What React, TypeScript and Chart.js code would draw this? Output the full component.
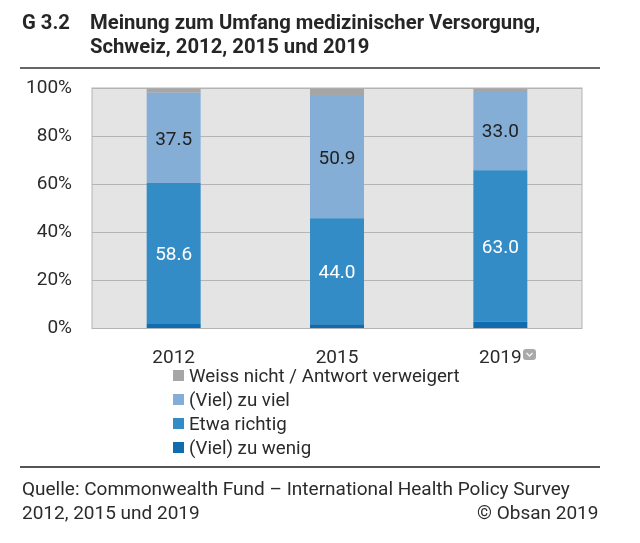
import React, { useEffect, useRef } from "react";
import { Chart, registerables } from "chart.js";

Chart.register(...registerables);

const years = ["2012", "2015", "2019"];
const zuWenig = [1.9, 1.8, 2.8];
const etwaRichtig = [58.6, 44.0, 63.0];
const zuViel = [37.5, 50.9, 33.0];
const weissNicht = [2.0, 3.3, 1.2];
const yTicks = [0, 20, 40, 60, 80, 100];
const FONT = "Roboto, sans-serif";
const TEXT = "#2b2b2b";

const series = [
  { label: "(Viel) zu wenig", data: zuWenig, color: "#0f6cb0", valueColor: "" },
  { label: "Etwa richtig", data: etwaRichtig, color: "#338cc6", valueColor: "#ffffff" },
  { label: "(Viel) zu viel", data: zuViel, color: "#85aed7", valueColor: "#222222" },
  { label: "Weiss nicht / Antwort verweigert", data: weissNicht, color: "#a6a6a6", valueColor: "" },
];

const plotFrame = {
  id: "plotFrame",
  beforeDraw(chart: any) {
    const { ctx, chartArea: a } = chart;
    ctx.save();
    ctx.fillStyle = "#e4e4e4";
    ctx.fillRect(a.left, a.top, a.width, a.height);
    ctx.restore();
  },
  afterDraw(chart: any) {
    const { ctx, chartArea: a } = chart;
    ctx.save();
    ctx.strokeStyle = "#b4b4b4";
    ctx.lineWidth = 1;
    ctx.strokeRect(a.left, a.top, a.width, a.height);
    ctx.restore();
  },
};

const valueLabels = {
  id: "valueLabels",
  afterDatasetsDraw(chart: any) {
    const { ctx } = chart;
    ctx.save();
    ctx.font = `19px ${FONT}`;
    ctx.textAlign = "center";
    ctx.textBaseline = "middle";
    series.forEach((s, i) => {
      if (!s.valueColor) return;
      chart.getDatasetMeta(i).data.forEach((bar: any, j: number) => {
        ctx.fillStyle = s.valueColor;
        ctx.fillText(s.data[j].toFixed(1), bar.x, (bar.y + bar.base) / 2 + 2);
      });
    });
    ctx.restore();
  },
};

export default function App() {
  const ref = useRef<HTMLCanvasElement>(null);
  useEffect(() => {
    document.body.style.margin = "0";
    const chart = new Chart(ref.current!, {
      type: "bar",
      data: {
        labels: years,
        datasets: series.map((s) => ({
          label: s.label,
          data: s.data,
          backgroundColor: s.color,
          borderWidth: 0,
          categoryPercentage: 1,
          barPercentage: 54 / 163.4,
        })),
      },
      options: {
        responsive: false,
        animation: false,
        events: [],
        layout: { padding: { left: 0, top: 88, right: 58, bottom: 0 } },
        plugins: { legend: { display: false }, title: { display: false }, tooltip: { enabled: false } },
        scales: {
          x: {
            stacked: true,
            grid: { display: false },
            border: { display: false },
            afterFit(axis: any) { axis.height = 214.5; },
            ticks: { color: TEXT, font: { family: FONT, size: 19 }, padding: 10, maxRotation: 0 },
          },
          y: {
            stacked: true,
            min: 0,
            max: 100,
            afterFit(axis: any) { axis.width = 92; },
            afterBuildTicks(axis: any) { axis.ticks = yTicks.map((value) => ({ value })); },
            grid: { color: "#b4b4b4", lineWidth: 1, drawTicks: false },
            border: { display: false },
            ticks: {
              color: TEXT,
              font: { family: FONT, size: 19 },
              padding: 20,
              callback: (v: any) => `${v}%`,
            },
          },
        },
      },
      plugins: [plotFrame, valueLabels],
    } as any);
    return () => chart.destroy();
  }, []);

  const abs = (x: number, y: number, extra: React.CSSProperties = {}): React.CSSProperties => ({
    position: "absolute", left: x, top: y, whiteSpace: "nowrap", fontFamily: FONT, color: TEXT, ...extra,
  });
  const titleStyle: React.CSSProperties = { fontWeight: 700, fontSize: 20.25, lineHeight: "26px", color: "#262626" };
  const srcStyle: React.CSSProperties = { fontSize: 19, lineHeight: "25px" };

  return (
    <div style={{ position: "relative", width: 640, height: 543, overflow: "hidden", background: "#fff" }}>
      <canvas ref={ref} width={640} height={543} style={{ position: "absolute", left: 0, top: 0, display: "block" }} />
      <div style={abs(22, 9, titleStyle)}>G 3.2</div>
      <div style={abs(90, 9, titleStyle)}>Meinung zum Umfang medizinischer Versorgung,</div>
      <div style={abs(90, 33, titleStyle)}>Schweiz, 2012, 2015 und 2019</div>
      <div style={{ position: "absolute", left: 20, top: 67, width: 580, height: 2, background: "#666" }} />
      <svg style={{ position: "absolute", left: 522, top: 348 }} width={15} height={13} viewBox="0 0 15 13">
        <rect x={1} y={1} width={13} height={11} rx={3} fill="#a9a9a9" />
        <path d="M4.5 5 L7.5 8 L10.5 5" fill="none" stroke="#f2f2f2" strokeWidth={1.5} />
      </svg>
      {[...series].reverse().map((s, i) => (
        <React.Fragment key={s.label}>
          <div style={{ position: "absolute", left: 173, top: 370 + i * 24, width: 11, height: 11, background: s.color }} />
          <div style={abs(189, 364 + i * 24, { fontSize: 18.7, lineHeight: "24px" })}>{s.label}</div>
        </React.Fragment>
      ))}
      <div style={{ position: "absolute", left: 20, top: 466, width: 580, height: 2, background: "#555" }} />
      <div style={abs(22, 476, srcStyle)}>Quelle: Commonwealth Fund – International Health Policy Survey</div>
      <div style={abs(22, 500, srcStyle)}>2012, 2015 und 2019</div>
      <div style={abs(477, 500, srcStyle)}>© Obsan 2019</div>
    </div>
  );
}
